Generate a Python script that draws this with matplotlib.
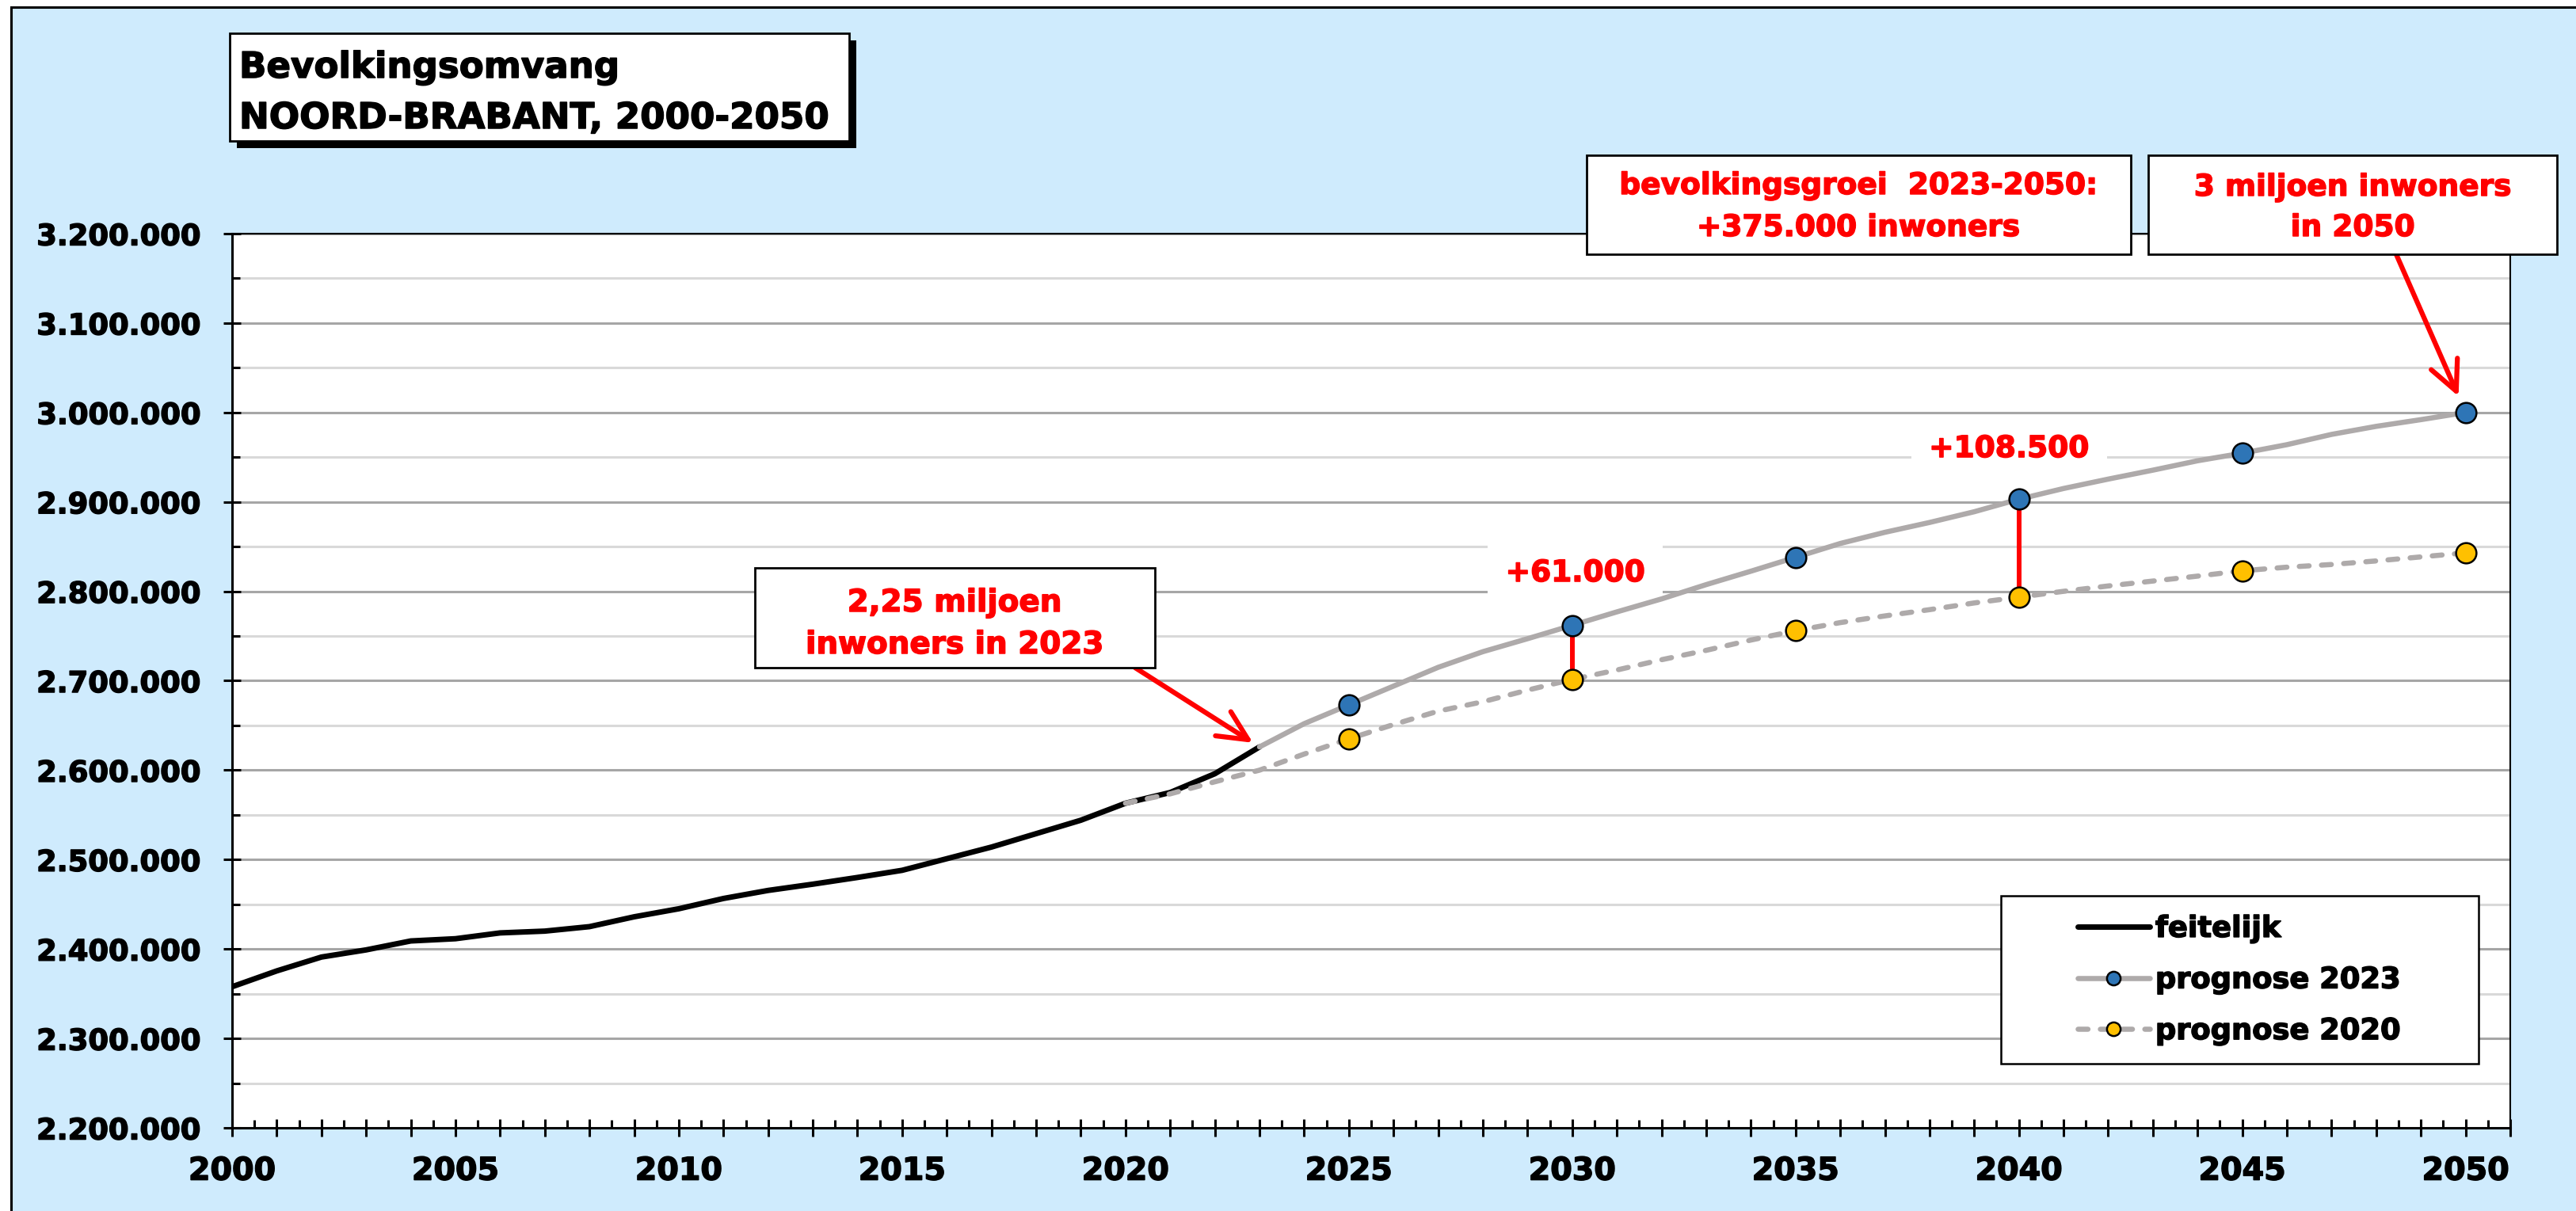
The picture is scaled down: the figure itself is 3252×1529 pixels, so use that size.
import matplotlib.pyplot as plt
import matplotlib.patheffects as pe
from matplotlib.patches import Rectangle
from matplotlib.ticker import MultipleLocator, FuncFormatter

plt.rcParams['font.family'] = ['DejaVu Sans']
plt.rcParams['font.weight'] = 'bold'

W, H = 3252, 1529

# data (inwoners per 1 januari)
jaren_feitelijk = list(range(2000, 2024))
feitelijk = [2357800, 2375500, 2391000, 2399000, 2409000, 2411500, 2418000, 2420000,
             2425000, 2436000, 2445000, 2456500, 2465500, 2472500, 2480000, 2488000,
             2501000, 2514000, 2529000, 2544000, 2563000, 2575000, 2596000, 2626000]

jaren_p2023 = list(range(2023, 2051))
prognose_2023 = [2626000, 2652000, 2673000, 2694000, 2715000, 2732500, 2747000, 2762000,
                 2777000, 2791500, 2807500, 2822500, 2838000, 2853500, 2866000, 2877000,
                 2889000, 2903000, 2915000, 2925500, 2935500, 2946000, 2954500, 2964000,
                 2975500, 2984500, 2992000, 3000000]

jaren_p2020 = list(range(2020, 2051))
prognose_2020 = [2563000, 2573500, 2587000, 2600000, 2618000, 2635000, 2651000, 2666000,
                 2676500, 2689500, 2701500, 2712000, 2723500, 2734000, 2745500, 2756000,
                 2765000, 2772500, 2779500, 2787000, 2793500, 2800000, 2806000, 2811500,
                 2817000, 2823000, 2827000, 2830000, 2834000, 2838500, 2843000]

verschil_jaren = [2030, 2040]
verschil_teksten = ['+61.000', '+108.500']

blauw = '#2E75B6'
geel = '#FFC000'
grijs = '#AEAAAA'
rood = '#FF0000'


def fx(px):
    return px / W


def fy(py):
    return 1 - py / H


def dik(kleur):
    # iets zwaardere letters
    return [pe.Stroke(linewidth=1.1, foreground=kleur), pe.Normal()]


fig = plt.figure(figsize=(W / 100, H / 100), dpi=100)
fig.patch.set_facecolor('white')

# lichtblauwe achtergrond met zwarte rand
fig.add_artist(Rectangle((fx(14), fy(H + 60)), 1.2, fy(9) - fy(H + 60),
                         facecolor='#CFEBFD', edgecolor='black', lw=2.2, zorder=-10))

ax = fig.add_axes([fx(293), fy(1424), fx(3169) - fx(293), fy(295) - fy(1424)])
ax.set_facecolor('white')
ax.set_axisbelow(True)

ax.plot(jaren_feitelijk, feitelijk, color='black', lw=5, solid_capstyle='round',
        solid_joinstyle='round', zorder=3, label='feitelijk')
ax.plot(jaren_p2023, prognose_2023, color=grijs, lw=4.7, solid_capstyle='round',
        marker='o', ms=18.5, mfc=blauw, mec='black', mew=1.8,
        markevery=[i for i, j in enumerate(jaren_p2023) if j % 5 == 0],
        zorder=4, label='prognose 2023')
ax.plot(jaren_p2020, prognose_2020, color=grijs, lw=4.7, ls=(0, (1.9, 2.4)),
        dash_capstyle='round', marker='o', ms=18.5, mfc=geel, mec='black', mew=1.8,
        markevery=[i for i, j in enumerate(jaren_p2020) if j % 5 == 0 and j > 2020],
        zorder=4, label='prognose 2020')

for jaar in verschil_jaren:
    laag = prognose_2020[jaren_p2020.index(jaar)]
    hoog = prognose_2023[jaren_p2023.index(jaar)]
    ax.vlines(jaar, laag, hoog, color=rood, lw=4.3, zorder=3.5)

ax.text(2030.07, 2820000, verschil_teksten[0], color=rood, fontsize=27, ha='center',
        va='center', zorder=1.5, path_effects=dik(rood),
        bbox=dict(boxstyle='square,pad=0.6', facecolor='white', edgecolor='none'))
ax.text(2039.78, 2959000, verschil_teksten[1], color=rood, fontsize=27, ha='center',
        va='center', zorder=1.5, path_effects=dik(rood),
        bbox=dict(boxstyle='square,pad=0.6', facecolor='white', edgecolor='none'))

# assen
ax.set_xlim(2000, 2051)
ax.set_ylim(2200000, 3200000)
ax.xaxis.set_major_locator(MultipleLocator(1))
ax.xaxis.set_minor_locator(MultipleLocator(0.5))
ax.xaxis.set_major_formatter(FuncFormatter(
    lambda v, p: f'{int(round(v))}' if int(round(v)) % 5 == 0 else ''))
ax.yaxis.set_major_locator(MultipleLocator(100000))
ax.yaxis.set_minor_locator(MultipleLocator(50000))
ax.yaxis.set_major_formatter(FuncFormatter(lambda v, p: f'{v:,.0f}'.replace(',', '.')))

ax.tick_params(which='major', direction='inout', length=15.8, width=2.2, color='black')
ax.tick_params(which='minor', direction='in', length=7.2, width=2.2, color='black')
ax.tick_params(axis='y', which='major', pad=21, labelsize=26.5)
ax.tick_params(axis='x', which='major', pad=17, labelsize=28.5)
for t in ax.get_xticklabels() + ax.get_yticklabels():
    t.set_path_effects(dik('black'))

ax.grid(axis='y', which='major', color='#A6A6A6', lw=2.2)
ax.grid(axis='y', which='minor', color='#D9D9D9', lw=2.2)
for kant in ['left', 'bottom']:
    ax.spines[kant].set_linewidth(2.2)
for kant in ['top', 'right']:
    ax.spines[kant].set_linewidth(1.5)

# legenda
leg = ax.legend(loc='center', bbox_to_anchor=(0.881, 0.1656), frameon=False,
                prop={'weight': 'bold', 'size': 26.5}, handlelength=2.46,
                handletextpad=0.2, labelspacing=0.75, markerscale=0.67)
leg.set_zorder(6)
for t in leg.get_texts():
    t.set_path_effects(dik('black'))
ax.add_patch(Rectangle((fx(2526), fy(1343)), fx(3129) - fx(2526), fy(1131) - fy(1343),
                       transform=fig.transFigure, facecolor='white', edgecolor='black',
                       lw=1.8, zorder=5))


def kader(x0, y0, x1, y1, schaduw=0):
    if schaduw:
        fig.add_artist(Rectangle((fx(x0 + schaduw), fy(y1 + schaduw)), fx(x1) - fx(x0),
                                 fy(y0) - fy(y1), facecolor='black', edgecolor='none',
                                 zorder=5))
    fig.add_artist(Rectangle((fx(x0), fy(y1)), fx(x1) - fx(x0), fy(y0) - fy(y1),
                             facecolor='white', edgecolor='black', lw=2, zorder=6))


def regel(x, y, s, kleur, grootte, ha='center'):
    fig.text(fx(x), fy(y), s, color=kleur, fontsize=grootte, ha=ha, va='baseline',
             zorder=7, path_effects=dik(kleur))


# titel
kader(290, 42, 1072, 178, schaduw=9)
regel(302, 98, 'Bevolkingsomvang', 'black', 32.5, ha='left')
regel(302, 162, 'NOORD-BRABANT, 2000-2050', 'black', 32.5, ha='left')

# tekstkaders
kader(953, 717, 1458, 843)
regel(1205, 772, '2,25 miljoen', rood, 28)
regel(1205, 825, 'inwoners in 2023', rood, 28)

kader(2003, 196, 2690, 321)
regel(2346, 245, 'bevolkingsgroei  2023-2050:', rood, 27)
regel(2346, 298, '+375.000 inwoners', rood, 27)

kader(2712, 196, 3228, 321)
regel(2970, 247, '3 miljoen inwoners', rood, 27)
regel(2970, 298, 'in 2050', rood, 27)

pijl = dict(arrowstyle='->,head_length=1.35,head_width=0.65', color=rood, lw=4.5,
            shrinkA=0, mutation_scale=20)
ax.annotate('', xy=(2023, feitelijk[-1]), xytext=(fx(1433), fy(843)),
            textcoords='figure fraction', arrowprops=dict(pijl, shrinkB=7), zorder=6)
ax.annotate('', xy=(2050, prognose_2023[-1]), xytext=(fx(3025), fy(321)),
            textcoords='figure fraction', arrowprops=dict(pijl, shrinkB=16), zorder=6)

fig.savefig('out.png', dpi=100)
